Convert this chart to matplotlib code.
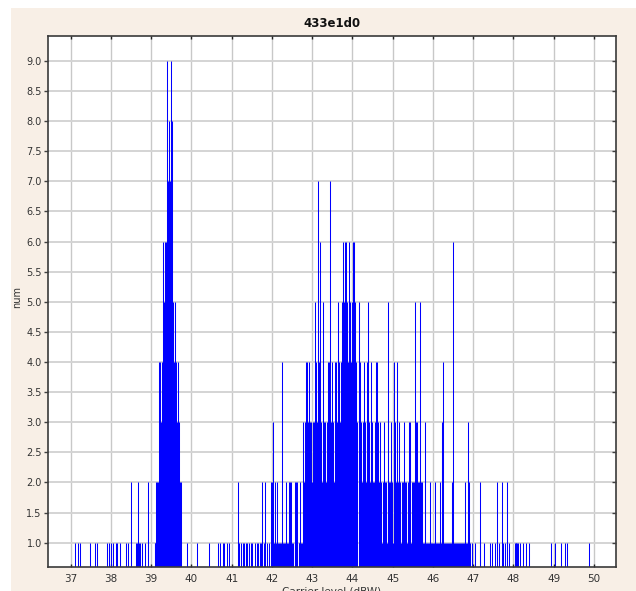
import matplotlib
matplotlib.use("Agg")
import matplotlib.pyplot as plt
from matplotlib.patches import Rectangle

title = "433e1d0"
y_label = "num"
x_label = "Carrier level (dBW)"
x_ticks = [37, 38, 39, 40, 41, 42, 43, 44, 45, 46, 47, 48, 49, 50]
y_ticks = [1.0, 1.5, 2.0, 2.5, 3.0, 3.5, 4.0, 4.5, 5.0, 5.5, 6.0, 6.5, 7.0, 7.5, 8.0, 8.5, 9.0]

left_tail_x = [37.10, 37.17, 37.22, 37.47, 37.60, 37.65, 37.91, 37.95, 38.01, 38.06,
               38.12, 38.14, 38.23, 38.37, 38.42, 38.49, 38.61, 38.64, 38.66, 38.69,
               38.72, 38.76, 38.84, 38.92, 39.09, 39.10]
left_tail_n = [1, 1, 1, 1, 1, 1, 1, 1, 1, 1,
               1, 1, 1, 1, 1, 2, 1, 1, 2, 1,
               1, 1, 1, 2, 1, 1]

peak_x = [39.125, 39.150, 39.175, 39.200, 39.225, 39.250, 39.275, 39.300, 39.325, 39.350,
          39.375, 39.400, 39.425, 39.450, 39.475, 39.500, 39.525, 39.550, 39.575, 39.600,
          39.625, 39.650, 39.675, 39.700, 39.725, 39.750, 39.880]
peak_n = [2, 2, 2, 4, 4, 3, 4, 6, 5, 6,
          6, 9, 7, 8, 7, 9, 8, 5, 4, 5,
          4, 3, 4, 3, 2, 2, 1]

mid_x = [40.13, 40.44, 40.67, 40.70, 40.78, 40.80, 40.89, 40.94, 41.15, 41.19,
         41.22, 41.27, 41.31, 41.36, 41.39, 41.42, 41.48, 41.50, 41.59, 41.62,
         41.65, 41.70, 41.72, 41.76, 41.79, 41.83, 41.88, 41.92, 41.97, 42.00,
         42.03, 42.05, 42.07, 42.08, 42.10, 42.13, 42.16, 42.18, 42.20, 42.23,
         42.26, 42.28, 42.30, 42.32, 42.34, 42.36, 42.38, 42.40, 42.42, 42.45,
         42.48, 42.50, 42.53, 42.56, 42.58, 42.60, 42.63, 42.66, 42.68, 42.70,
         42.73, 42.75]
mid_n = [1, 1, 1, 1, 1, 1, 1, 1, 2, 1,
         1, 1, 1, 1, 1, 1, 1, 1, 1, 1,
         1, 1, 1, 2, 1, 2, 1, 1, 2, 2,
         3, 1, 1, 2, 1, 2, 1, 1, 1, 1,
         4, 1, 1, 1, 2, 1, 1, 1, 2, 2,
         2, 1, 1, 2, 1, 2, 2, 1, 1, 2,
         1, 1]

dense_x = [42.775, 42.800, 42.825, 42.850, 42.875, 42.900, 42.925, 42.950, 42.975, 43.000,
           43.025, 43.050, 43.075, 43.100, 43.125, 43.150, 43.175, 43.200, 43.225, 43.250,
           43.275, 43.300, 43.325, 43.350, 43.375, 43.400, 43.425, 43.450, 43.475, 43.500,
           43.525, 43.550, 43.575, 43.600, 43.625, 43.650, 43.675, 43.700, 43.725, 43.750,
           43.775, 43.800, 43.825, 43.850, 43.875, 43.900, 43.925, 43.950, 43.975, 44.000,
           44.025, 44.050, 44.075, 44.100, 44.125, 44.150, 44.175, 44.200, 44.225, 44.250,
           44.275, 44.300, 44.325, 44.350, 44.375, 44.400, 44.425, 44.450, 44.475, 44.500,
           44.525, 44.550, 44.575, 44.600, 44.625, 44.650, 44.675, 44.700, 44.725, 44.750,
           44.775, 44.800, 44.825, 44.850, 44.875, 44.900, 44.925, 44.950, 44.975, 45.000,
           45.025, 45.050, 45.075, 45.100, 45.125, 45.150, 45.175, 45.200, 45.225, 45.250,
           45.275, 45.300, 45.325, 45.350, 45.375, 45.400]
dense_n = [3, 2, 3, 4, 4, 3, 4, 3, 3, 2,
           3, 3, 5, 4, 3, 7, 4, 6, 3, 2,
           5, 3, 3, 2, 3, 4, 4, 7, 3, 4,
           3, 2, 4, 4, 3, 5, 4, 3, 4, 5,
           6, 5, 6, 6, 5, 4, 6, 5, 4, 5,
           6, 6, 5, 4, 3, 5, 4, 3, 2, 3,
           4, 3, 2, 4, 5, 3, 2, 4, 3, 2,
           2, 3, 4, 4, 3, 2, 3, 2, 1, 2,
           3, 2, 2, 1, 5, 2, 2, 3, 2, 1,
           4, 3, 2, 4, 2, 3, 2, 1, 2, 2,
           3, 2, 2, 1, 2, 3]

shoulder_x = [45.425, 45.450, 45.475, 45.500, 45.525, 45.550, 45.575, 45.600, 45.625, 45.650,
              45.675, 45.700, 45.725, 45.750, 45.775, 45.800, 45.825, 45.850, 45.875, 45.900,
              45.925, 45.950, 45.975, 46.000, 46.025, 46.050, 46.075, 46.100, 46.125, 46.150,
              46.175, 46.200, 46.225, 46.250, 46.275, 46.300, 46.325, 46.350, 46.375, 46.400,
              46.425, 46.450, 46.475, 46.500, 46.525, 46.550, 46.575, 46.600, 46.625, 46.650,
              46.675, 46.700, 46.725, 46.750, 46.775, 46.800, 46.825, 46.850, 46.875, 46.900]
shoulder_n = [3, 1, 2, 2, 2, 5, 3, 3, 2, 2,
              5, 2, 2, 1, 1, 3, 1, 1, 1, 1,
              2, 1, 1, 1, 1, 2, 1, 1, 1, 1,
              2, 1, 3, 4, 1, 1, 1, 1, 1, 1,
              1, 1, 2, 6, 1, 1, 1, 1, 1, 1,
              1, 1, 1, 1, 1, 2, 1, 1, 3, 2]

right_tail_x = [46.93, 46.96, 47.04, 47.16, 47.18, 47.27, 47.41, 47.47, 47.54, 47.59,
                47.64, 47.71, 47.74, 47.78, 47.84, 47.89, 48.04, 48.06, 48.07, 48.09,
                48.11, 48.15, 48.24, 48.30, 48.39, 48.94, 49.02, 49.18, 49.28, 49.33,
                49.88]
right_tail_n = [1, 1, 1, 2, 1, 1, 1, 1, 1, 2,
                1, 2, 1, 1, 2, 1, 1, 1, 1, 1,
                1, 1, 1, 1, 1, 1, 1, 1, 1, 1,
                1]

W, H = 636, 591
fig = plt.figure(figsize=(W / 100, H / 100), dpi=100)
fig.patch.set_facecolor("white")
fig.patches.append(Rectangle((11 / W, 0), 1 - 11 / W, (H - 8) / H,
                             transform=fig.transFigure, facecolor="#f8efe6",
                             edgecolor="none", zorder=-10))

ax_l, ax_r, ax_t, ax_b = 48, 616, 35.7, 566.7
ax = fig.add_axes([ax_l / W, (H - ax_b) / H, (ax_r - ax_l) / W, (ax_b - ax_t) / H])
ax.set_facecolor("white")
ax.set_axisbelow(True)

for xs, ns in [(left_tail_x, left_tail_n), (peak_x, peak_n), (mid_x, mid_n),
               (dense_x, dense_n), (shoulder_x, shoulder_n), (right_tail_x, right_tail_n)]:
    ax.vlines(xs, 0, ns, colors="#0000ff", linewidth=0.75)

ax.set_xlim(36.436, 50.547)
ax.set_ylim(0.6, 9.42)
ax.set_xticks(x_ticks)
ax.set_xticklabels([str(t) for t in x_ticks])
ax.set_yticks(y_ticks)
ax.set_yticklabels([f"{t:.1f}" for t in y_ticks])

ax.xaxis.grid(True, color="#c8c8c8", linewidth=1.0)
ax.yaxis.grid(True, color="#d4d4d4", linewidth=1.4)

ax.tick_params(axis="y", which="both", direction="out", length=3, width=1,
               labelsize=7, pad=1.5, colors="#404040", labelcolor="#333333")
ax.tick_params(axis="x", which="both", direction="in", length=2.5, width=1,
               labelsize=7.5, pad=5, colors="#222222", labelcolor="#333333",
               top=True)
for s in ax.spines.values():
    s.set_color("#3a3a3a")
    s.set_linewidth(1.2)

# mirrored inward ticks on the right edge
ax_r2 = ax.twinx()
ax_r2.set_ylim(ax.get_ylim())
ax_r2.set_yticks(y_ticks)
ax_r2.tick_params(axis="y", direction="in", length=3, width=1, colors="#404040",
                  labelright=False)
for s in ax_r2.spines.values():
    s.set_visible(False)

ax.set_title(title, fontsize=8.5, fontweight="bold", pad=6, color="#111111")
fig.text(17 / W, (H - 297) / H, y_label, rotation=90, fontsize=7,
         ha="center", va="center", color="#333333")
fig.text((ax_l + ax_r) / 2 / W, (H - 586.5) / H, x_label, fontsize=7.5,
         ha="center", va="top", color="#333333")

fig.savefig("out.png", dpi=100)
